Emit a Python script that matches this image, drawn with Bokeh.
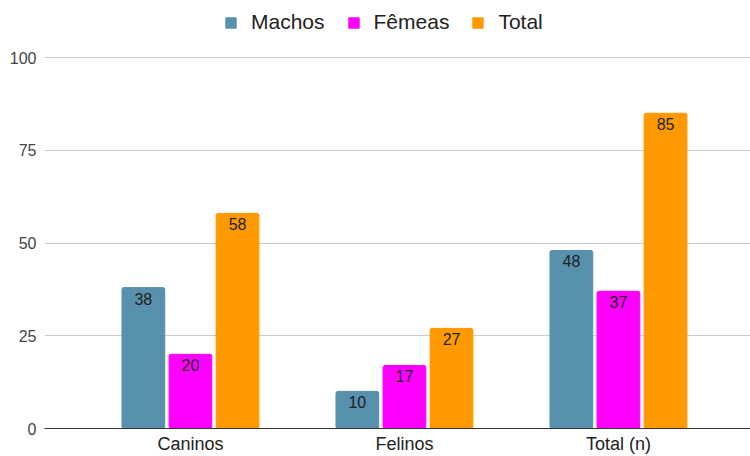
from bokeh.plotting import figure
from bokeh.models import Range1d, Legend, LegendItem, ColumnDataSource, FixedTicker
from bokeh.core.properties import value
from bokeh.embed import file_html
from bokeh.resources import INLINE

categories = ["Caninos", "Felinos", "Total (n)"]
series = ["Machos", "Fêmeas", "Total"]
machos = [38, 10, 48]
femeas = [20, 17, 37]
total = [58, 27, 85]
colors = ["#5891AD", "#FF00FF", "#FF9900"]
y_ticks = [0, 25, 50, 75, 100]

FONT = "Liberation Sans"

p = figure(width=750, height=456, output_backend="svg", toolbar_location=None,
           x_range=Range1d(-0.682, 2.617), y_range=Range1d(0, 115.4),
           min_border_left=44, min_border_right=0, min_border_bottom=28, min_border_top=0)
p.outline_line_color = None
p.background_fill_color = "white"
p.border_fill_color = "white"

xs = list(range(len(categories)))
offsets = [-0.22, 0.0, 0.22]
bar_w = 0.2
items = []
for vals, name, col, off in zip([machos, femeas, total], series, colors, offsets):
    src = ColumnDataSource(dict(x=[x + off for x in xs], top=vals, lbl=[str(v) for v in vals]))
    r = p.vbar(x="x", top="top", width=bar_w, source=src, fill_color=col, line_color=col,
               border_radius=2)
    p.text(x="x", y="top", text="lbl", source=src, text_align="center", text_baseline="top",
           y_offset=5, text_font=value(FONT), text_font_size="16px", text_color="#222222")
    items.append(LegendItem(label=name, renderers=[r]))

legend = Legend(items=items, orientation="horizontal", location=(180, 394),
                label_text_font=FONT, label_text_font_size="21px", label_text_color="#222222",
                glyph_width=13, glyph_height=13, label_standoff=14, spacing=22,
                border_line_color=None, background_fill_alpha=0,
                margin=0, padding=2, label_height=20)
p.add_layout(legend, "center")

p.xaxis.ticker = FixedTicker(ticks=xs)
p.xaxis.major_label_overrides = {i: c for i, c in enumerate(categories)}
p.xaxis.major_tick_line_color = None
p.xaxis.major_tick_out = 0
p.xaxis.major_tick_in = 0
p.xaxis.minor_tick_line_color = None
p.xaxis.axis_line_color = "#333333"
p.xaxis.major_label_text_font = FONT
p.xaxis.major_label_text_font_size = "18px"
p.xaxis.major_label_text_color = "#222222"
p.xaxis.major_label_standoff = 5

p.yaxis.ticker = FixedTicker(ticks=y_ticks)
p.yaxis.axis_line_color = None
p.yaxis.major_tick_line_color = None
p.yaxis.major_tick_out = 0
p.yaxis.major_tick_in = 0
p.yaxis.minor_tick_line_color = None
p.yaxis.major_label_text_font = FONT
p.yaxis.major_label_text_font_size = "16px"
p.yaxis.major_label_text_color = "#444444"
p.yaxis.major_label_standoff = 8

p.xgrid.grid_line_color = None
p.ygrid.grid_line_color = "#cccccc"
p.ygrid.ticker = FixedTicker(ticks=y_ticks)

open("out.html", "w").write(file_html(p, INLINE))
